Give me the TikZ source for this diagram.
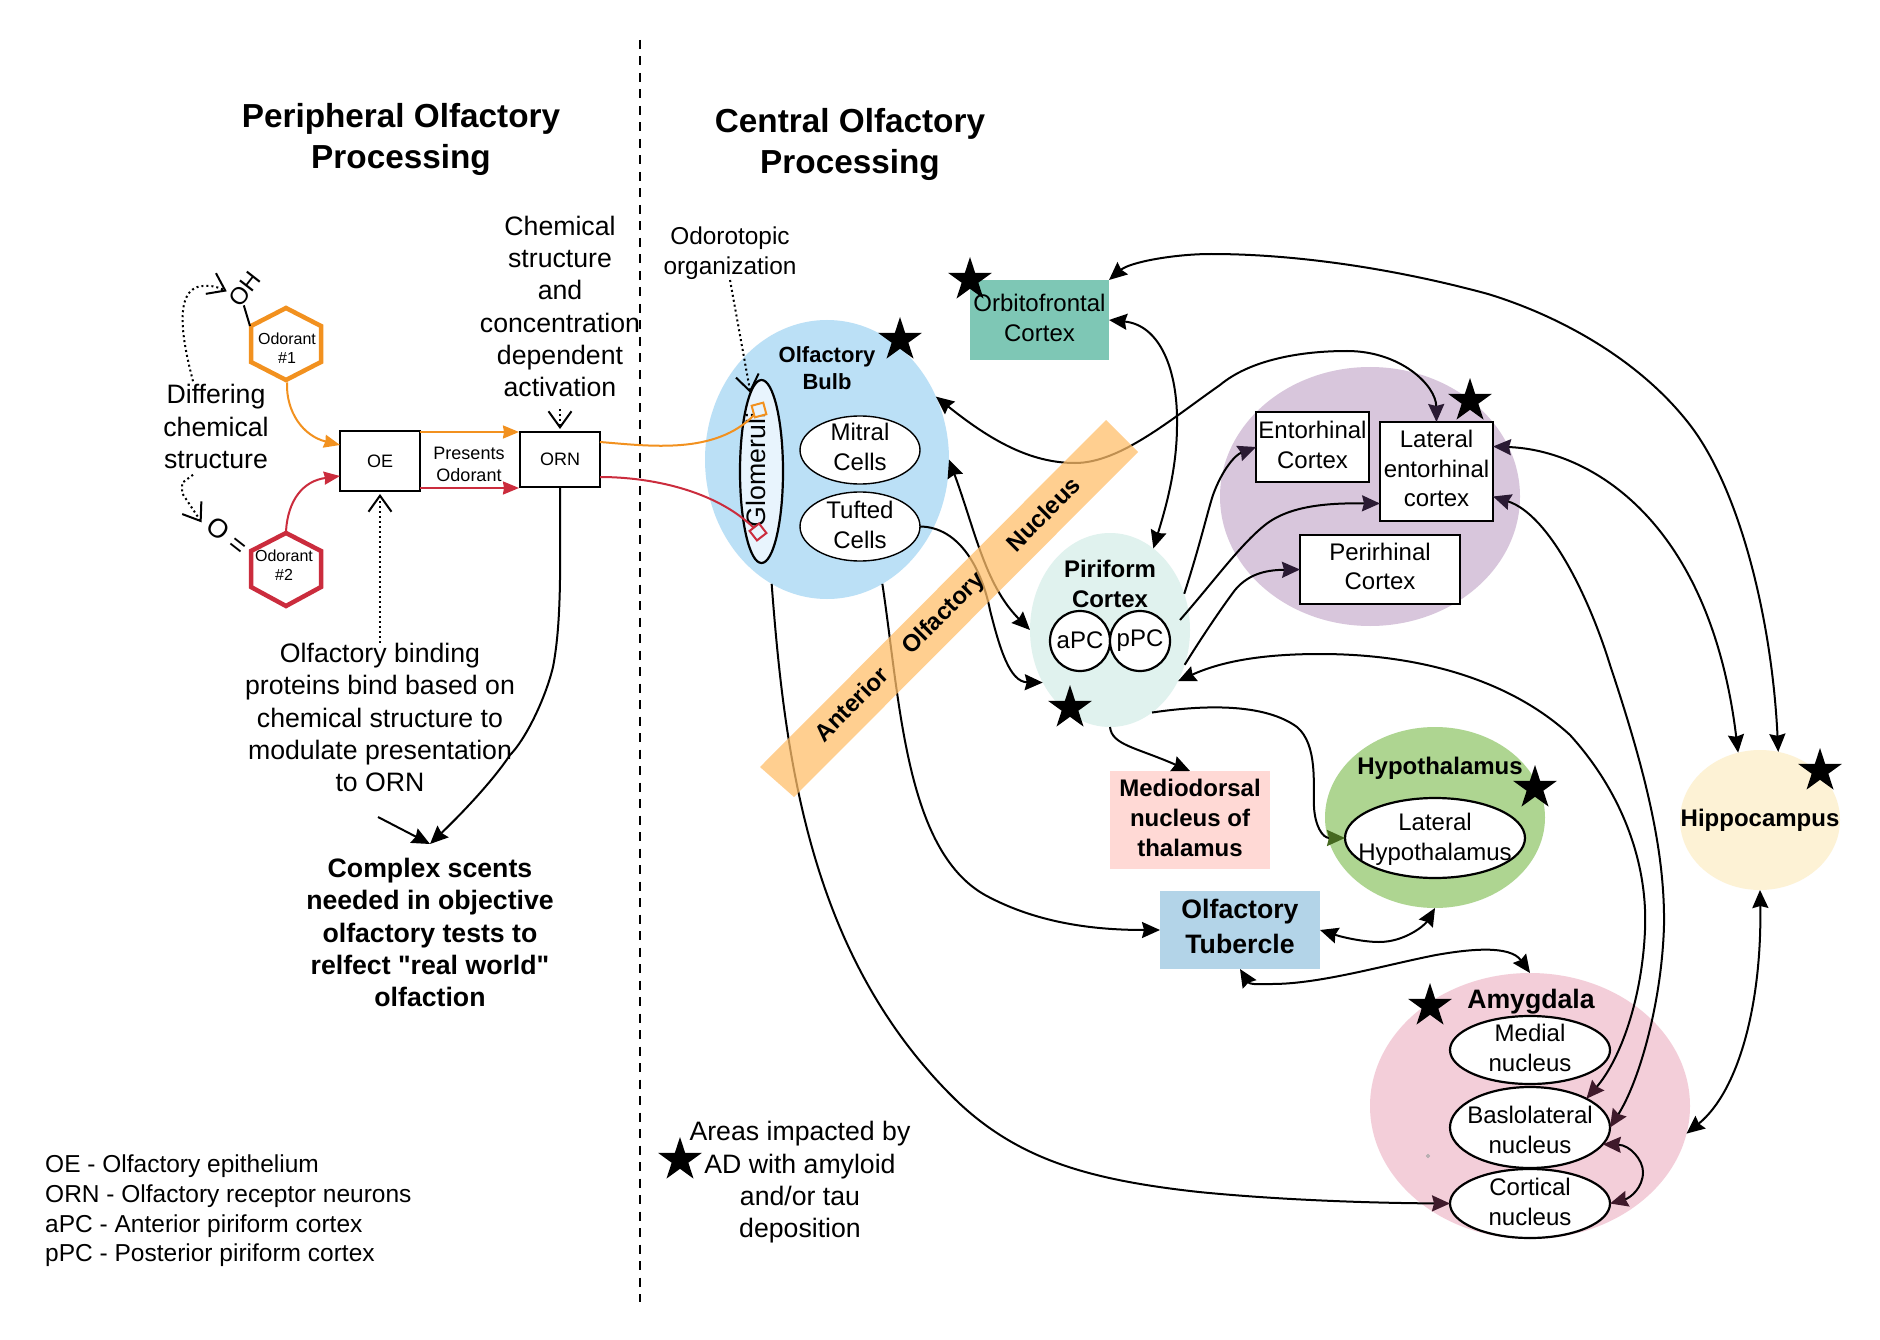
\documentclass[tikz,border=0pt]{standalone}
\usepackage{fontspec}
\setmainfont{Liberation Sans}
\newfontfamily\qf{Liberation Sans}
\usetikzlibrary{arrows.meta,shapes.geometric,calc}
\newcommand{\fsz}[2]{\fontsize{#1}{#2}\selectfont}
\newcommand{\upb}[1]{\rule[-#1pt]{0pt}{#1pt}}
\newcommand{\dnb}[1]{\rule{0pt}{#1pt}}
\definecolor{cOrange}{HTML}{F2911F}
\definecolor{cRed}{HTML}{CB2C3D}
\definecolor{cBulb}{HTML}{BBE0F6}
\definecolor{cGlom}{HTML}{E8F4FD}
\definecolor{cOrbito}{HTML}{7EC7B5}
\definecolor{cPir}{HTML}{E0F2EE}
\definecolor{cPurple}{HTML}{D8C6DC}
\definecolor{cHypo}{HTML}{AED591}
\definecolor{cMedio}{HTML}{FFD9D5}
\definecolor{cTub}{HTML}{B3D4E8}
\definecolor{cAmyg}{HTML}{F3CED9}
\definecolor{cHipp}{HTML}{FDF2D5}
\definecolor{cBand}{HTML}{FFBF6C}
\definecolor{inkP}{HTML}{2A1A33}
\definecolor{inkA}{HTML}{3F1A2B}
\definecolor{inkG}{HTML}{45691F}
\tikzset{
  tp/.tip={Stealth[length=18pt,width=16pt,inset=2pt]},
  tpP/.tip={Stealth[length=18pt,width=16pt,inset=2pt,color=inkP]},
  tpA/.tip={Stealth[length=18pt,width=16pt,inset=2pt,color=inkA]},
  tpG/.tip={Stealth[length=18pt,width=16pt,inset=2pt,color=inkG]},
  barb/.tip={Straight Barb[length=16pt,width=23pt,line width=2pt]},
  conn/.style={line width=2pt,draw=black},
  dots/.style={line width=2pt,draw=black,dash pattern=on 2pt off 3pt},
  region/.style={ellipse,inner sep=-25pt,outer sep=0pt},
  cell/.style={ellipse,draw=black,line width=2.2pt,fill=white,inner sep=-25pt,outer sep=0pt,align=center,font=\fsz{24}{30}},
  boxw/.style={rectangle,draw=black,line width=2.5pt,fill=white,inner sep=0pt,outer sep=0pt,align=center,font=\fsz{24}{29.5}},
  small/.style={rectangle,draw=black,line width=2.5pt,fill=white,inner sep=0pt,outer sep=0pt,font=\fsz{18}{22}},
  txt/.style={align=center,inner sep=0pt,font=\fsz{26.67}{32.3}},
  txts/.style={align=center,inner sep=0pt,font=\fsz{24.4}{30}},
  bold/.style={align=center,inner sep=0pt,font=\bfseries\fsz{24}{30}},
  boldl/.style={align=center,inner sep=0pt,font=\bfseries\fsz{26.67}{32.3}},
  title/.style={align=center,inner sep=0pt,font=\bfseries\fsz{33.3}{41}},
  astar/.style={star,star points=5,star point ratio=2.618,minimum size=46pt,inner sep=0pt,fill=black},
  odor/.style={rectangle,inner sep=0pt,outer sep=0pt,minimum width=72pt,minimum height=68pt,align=center,font=\fsz{16}{19}},
  sq/.style={rectangle,draw,line width=2pt,fill=cGlom,minimum size=12pt,inner sep=0pt,outer sep=0pt}
}
\begin{document}
\begin{tikzpicture}[x=1pt,y=-1pt]
\useasboundingbox (0,0) rectangle (1880,1340);
\fill[white] (0,0) rectangle (1880,1340);

% divider
\coordinate (divA) at (640,40);
\coordinate (divB) at (640,1302);
\draw[line width=2.2pt,dash pattern=on 9pt off 7.5pt] (divA) -- (divB);

% titles
\node[title] (tPeri) at (401,139) {Peripheral Olfactory\\Processing};
\node[title] (tCent) at (850,144) {Central Olfactory\\Processing};

% regions
\node[region,fill=cBulb,minimum width=244pt,minimum height=279pt] (bulb) at (827,459.5) {};
\node[region,fill=cPir,minimum width=160pt,minimum height=194pt] (pir) at (1110,630) {};
\node[region,fill=cPurple,minimum width=300pt,minimum height=259pt] (purp) at (1370,496.5) {};
\node[region,fill=cHypo,minimum width=220pt,minimum height=181pt] (hypo) at (1435,817.5) {};
\node[region,fill=cAmyg,minimum width=320pt,minimum height=266pt] (amyg) at (1530,1106) {};
\node[region,fill=cHipp,minimum width=160pt,minimum height=140pt,font=\bfseries\fsz{24}{30}] (hipp) at (1760,820) {Hippocampus};
\node[rectangle,fill=cOrbito,minimum width=139pt,minimum height=80pt,inner sep=0pt,outer sep=0pt,align=center,font=\fsz{24}{29.5},text depth=4pt] (orb) at (1039.5,320) {Orbitofrontal\\Cortex};
\node[rectangle,fill=cMedio,minimum width=160pt,minimum height=98pt,inner sep=0pt,outer sep=0pt,align=center,font=\bfseries\fsz{24}{30}] (med) at (1190,820) {Mediodorsal\\nucleus of\\thalamus\upb{5}};
\node[rectangle,fill=cTub,minimum width=160pt,minimum height=78pt,inner sep=0pt,outer sep=0pt,align=center,font=\bfseries\fsz{26.67}{35}] (tub) at (1240,930) {Olfactory\\Tubercle\upb{7}};

% inner cells
\node[ellipse,draw=black,line width=2.2pt,fill=cGlom,inner sep=0pt,outer sep=0pt,minimum width=43pt,minimum height=183pt] (glom) at (761.5,471.5) {};
\node[rotate=90,inner sep=0pt,font=\fsz{26.67}{32}] (glomT) at (756,470) {Glomeruli};
\node[cell,line width=1.4pt,minimum width=120pt,minimum height=68pt] (mit) at (860,450) {Mitral\\Cells\upb{7}};
\node[cell,line width=1.4pt,minimum width=120pt,minimum height=69pt] (tuf) at (860,526.5) {Tufted\\Cells\upb{4}};
\node[cell,minimum width=60pt,minimum height=60pt] (apc) at (1080,641) {\raisebox{2pt}{aPC}};
\node[cell,minimum width=60pt,minimum height=60pt] (ppc) at (1140,641) {\raisebox{2pt}{pPC}};
\node[boxw,minimum width=113pt,minimum height=70pt,text depth=4pt] (ento) at (1312.5,447) {Entorhinal\\Cortex};
\node[boxw,minimum width=113pt,minimum height=99pt,text depth=6pt] (lat) at (1436.5,471.5) {Lateral\\entorhinal\\cortex};
\node[boxw,minimum width=160pt,minimum height=69pt,text depth=6pt] (peri) at (1380,569.5) {Perirhinal\\Cortex};
\node[cell,minimum width=180pt,minimum height=80pt] (latH) at (1435,838) {\dnb{19}Lateral\\Hypothalamus};
\node[cell,minimum width=160pt,minimum height=68pt] (medN) at (1530,1050) {Medial\\nucleus\upb{4}};
\node[cell,minimum width=160pt,minimum height=81pt] (baso) at (1530,1127.5) {\dnb{23}Baslolateral\\nucleus};
\node[cell,minimum width=160pt,minimum height=69pt] (cort) at (1530,1203.5) {Cortical\\nucleus\upb{4}};
\node[circle,draw=black!35,line width=0.8pt,inner sep=0pt,minimum size=3pt] (speck) at (1428,1156) {};

% region labels
\node[bold,font=\bfseries\fsz{22}{26.5}] (bulbT) at (827,368) {Olfactory\\Bulb};
\node[bold] (pirT) at (1110,584) {Piriform\\Cortex};
\node[bold] (hypoT) at (1440,768) {Hypothalamus};
\node[boldl] (amygT) at (1531,1002) {Amygdala};

% left side boxes
\node[small,minimum width=80pt,minimum height=60pt] (OE) at (380,461) {OE};
\node[small,minimum width=80pt,minimum height=55pt] (ORN) at (560,459.5) {ORN};
\node[align=center,inner sep=0pt,font=\fsz{18}{22}] (pres) at (469,464) {Presents\\Odorant};

% odorants
\draw[cOrange,line width=4.5pt] (286,308) -- (321,326) -- (321,362) -- (286,380) -- (251,362) -- (251,326) -- cycle;
\draw[cRed,line width=4.5pt] (286,533) -- (321,551) -- (321,587) -- (286,606) -- (251,587) -- (251,551) -- cycle;
\node[odor] (hexA) at (287,348.5) {Odorant\\\#1};
\node[odor] (hexB) at (284,565) {Odorant\\\#2};
\node[rotate=52,inner sep=0pt,font=\fsz{24}{30}] (oh) at (245,289) {OH};
\node[rotate=-38,inner sep=0pt,font=\fsz{26.67}{30}] (ox) at (227,536) {O =};
\coordinate (hexAvert) at (250,326);
\draw[line width=2pt] ($(oh.west)+(10,2)$) -- (hexAvert);

% texts
\node[txt] (chem) at (560,306.5) {Chemical\\structure\\and\\concentration\\dependent\\activation};
\node[txt] (diff) at (216,426.5) {Differing\\chemical\\structure};
\node[txt] (bind) at (380,717.5) {Olfactory binding\\proteins bind based on\\chemical structure to\\modulate presentation\\to ORN};
\node[align=center,inner sep=0pt,font=\bfseries\fsz{26.67}{32.3}] (scents) at (430,932.5) {Complex scents\\needed in objective\\olfactory tests to\\relfect {\qf"real world"}\\olfaction};
\node[txts] (odot) at (730,253.5) {Odorotopic\\organization};
\node[txt] (areas) at (800,1182.5) {Areas impacted by\\AD with amyloid\\and/or tau\\deposition};
\node[anchor=west,align=left,inner sep=0pt,font=\fsz{24.5}{29.7}] (legend) at (45,1211) {OE - Olfactory epithelium\\ORN - Olfactory receptor neurons\\aPC - Anterior piriform cortex\\pPC - Posterior piriform cortex};

% glomeruli squares
\node[sq,draw=cOrange,rotate=15] (glomA) at (759,410) {};
\node[sq,draw=cRed,rotate=38] (glomB) at (758,532) {};

% orange/red connectors
\draw[conn,draw=cOrange,-{Stealth[length=16pt,width=13pt,inset=1pt,color=cOrange]}] (hexA.south) .. controls (286,412) and (303,436) .. ($(OE.west)+(0,-16)$);
\draw[conn,draw=cRed,-{Stealth[length=16pt,width=13pt,inset=1pt,color=cRed]}] ($(hexB.north)+(2,0)$) .. controls (288,500) and (303,481) .. ($(OE.west)+(0,15)$);
\draw[conn,draw=cOrange,-{Stealth[length=16pt,width=13pt,inset=1pt,color=cOrange]}] ($(OE.north east)+(0,1)$) -- ($(ORN.north west)+(-1,0)$);
\draw[conn,draw=cRed,-{Stealth[length=16pt,width=13pt,inset=1pt,color=cRed]}] ($(OE.south east)+(0,-3)$) -- ($(ORN.south west)+(-1,1)$);
\draw[conn,draw=cOrange] ($(ORN.east)+(0,-17.5)$) .. controls (650,446) and (715,455) .. (glomA);
\draw[conn,draw=cRed] ($(ORN.east)+(0,17.5)$) .. controls (650,477) and (715,490) .. (glomB);

% dotted notes
\draw[dots,-barb] ($(diff.north)+(-23,-3)$) .. controls (185,350) and (170,288) .. (203,286) .. controls (212,285) and (220,288) .. ($(oh.west)+(-7,-12)$);
\draw[dots,-barb] ($(diff.south)+(-23,6)$) -- (182,483) -- (182,493) -- ($(ox.west)+(-8,0)$);
\draw[dots,-barb] (bind.north) -- ($(OE.south)+(0,3)$);
\draw[dots,-barb] ($(chem.south)+(0,12)$) -- ($(ORN.north)+(0,-3)$);
\draw[dots,-barb] (odot.south) -- (glom.98);

% ORN to complex scents
\coordinate (scentsTip) at (430,844);
\coordinate (stray) at (378,817);
\draw[conn,-tp] (ORN.south) .. controls (560,560) and (562,620) .. (553,667) .. controls (545,700) and (525,740) .. (510,755) .. controls (490,785) and (455,820) .. (scentsTip);
\draw[conn,-tp] (stray) -- (scentsTip);

% central connectors
\draw[conn,tp-tp] (orb.north east) .. controls (1130,262) and (1175,254) .. (1211,254) .. controls (1300,254) and (1400,270) .. (1488,294) .. controls (1560,316) and (1640,360) .. (1690,425) .. controls (1740,490) and (1772,620) .. (hipp.75);
\draw[conn,tp-tp] (orb.east) .. controls (1160,325) and (1178,370) .. (1177,425) .. controls (1177,470) and (1165,510) .. (pir.62);
\draw[conn,tp-tpP] (bulb.30) .. controls (990,440) and (1030,463) .. (1075,463) .. controls (1120,463) and (1170,420) .. (1220,385) .. controls (1250,360) and (1300,351) .. (1347,351) .. controls (1400,351) and (1436,385) .. (lat.north);
\draw[conn,tp-tp] (bulb.east) .. controls (975,530) and (985,585) .. (pir.west);
\draw[conn,-tp] (tuf.east) .. controls (960,527) and (982,570) .. (990,610) .. controls (1000,650) and (1010,682) .. (pir.218);
\draw[conn,-tp] (bulb.294) .. controls (900,700) and (905,850) .. (985,895) .. controls (1040,925) and (1100,930) .. (tub.west);
\draw[conn,-tpA] (bulb.246) .. controls (785,760) and (810,960) .. (959,1103) .. controls (1020,1160) and (1090,1180) .. (1199,1192) .. controls (1280,1200) and (1370,1203) .. (cort.west);
\draw[conn,-tpP] (pir.26) .. controls (1200,545) and (1208,510) .. (1213,495) .. controls (1222,470) and (1235,455) .. (ento.west);
\draw[conn,-tpP] ($(pir.east)+(-10,-10)$) .. controls (1215,580) and (1240,545) .. (1265,525) .. controls (1290,505) and (1330,503) .. ($(lat.west)+(0,32)$);
\draw[conn,-tpP] (pir.-25) .. controls (1200,640) and (1220,610) .. (1235,590) .. controls (1250,572) and (1270,570) .. (peri.west);
\draw[conn,-tp] (pir.south) .. controls (1112,745) and (1135,747) .. (med.north);
\draw[conn,-tpG] (pir.-63) .. controls (1190,707) and (1260,700) .. (1297,727) .. controls (1318,745) and (1313,785) .. (1314,807) .. controls (1315,825) and (1322,838) .. (latH.west);
\draw[conn,tp-tpA] (pir.-37) .. controls (1220,662) and (1260,654) .. (1320,654) .. controls (1420,654) and (1510,680) .. (1570,735) .. controls (1620,790) and (1648,860) .. (1645,930) .. controls (1642,1000) and (1620,1060) .. (baso.27);
\draw[conn,tpP-tpA] ($(lat.east)+(0,25)$) .. controls (1550,515) and (1590,600) .. (1610,665) .. controls (1645,770) and (1665,850) .. (1664,925) .. controls (1662,1000) and (1640,1080) .. (baso.east);
\draw[conn,tpP-tp] ($(lat.east)+(0,-25)$) .. controls (1590,450) and (1710,520) .. (hipp.108);
\draw[conn,tp-tp] (tub.east) .. controls (1345,938) and (1365,942) .. (1379,942) .. controls (1405,942) and (1425,925) .. (hypo.south);
\draw[conn,tp-tp] (tub.south) .. controls (1250,985) and (1262,984) .. (1272,984) .. controls (1320,984) and (1385,965) .. (1436,955) .. controls (1470,949) and (1510,945) .. (amyg.north);
\draw[conn,tp-tp] (hipp.south) .. controls (1762,1000) and (1740,1090) .. (amyg.-10);
\draw[conn,tpA-tpA] (baso.-13) .. controls (1630,1145) and (1643,1160) .. (1643,1172) .. controls (1643,1188) and (1630,1198) .. (cort.east);

% band
\fill[cBand,opacity=.75] (1106,420) -- (1138,452) -- (794,797) -- (760,767) -- cycle;
\node[bold,rotate=45] (an1) at (851,704) {Anterior};
\node[bold,rotate=45] (an2) at (944,614) {Olfactory};
\node[bold,rotate=45] (an3) at (1043,514) {Nucleus};

% stars
\node[astar] (s1) at (970,280) {};
\node[astar] (s2) at (900,340) {};
\node[astar] (s3) at (1070,708) {};
\node[astar] (s4) at (1470,401) {};
\node[astar] (s5) at (1535,788) {};
\node[astar] (s6) at (1820,771) {};
\node[astar] (s7) at (1430,1006) {};
\node[astar] (s8) at (680,1160) {};
\end{tikzpicture}
\end{document}
